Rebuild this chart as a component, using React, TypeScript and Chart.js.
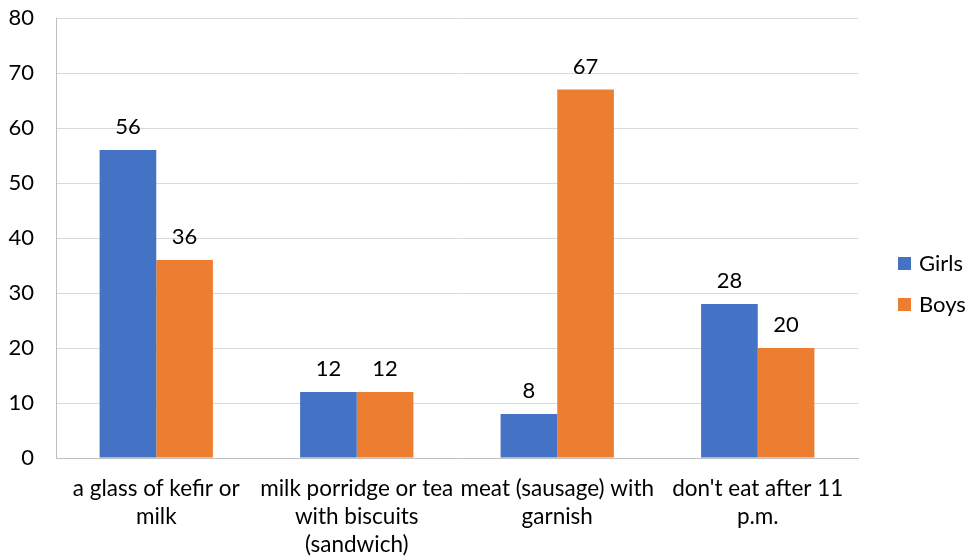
import { useEffect, useRef } from "react";
import { Chart, registerables } from "chart.js";

Chart.register(...registerables);

const categories: string[][] = [
  ["a glass of kefir or", "milk"],
  ["milk porridge or tea", "with biscuits", "(sandwich)"],
  ["meat (sausage) with", "garnish"],
  ["don't eat after 11", "p.m."],
];
const girls = [56, 12, 8, 28];
const boys = [36, 12, 67, 20];
const seriesNames = ["Girls", "Boys"];
const seriesColors = ["#4472C4", "#ED7D31"];
const yMin = 0;
const yMax = 80;
const yStep = 10;

const FONT = "Lato, 'Open Sans', sans-serif";
const TEXT = "#000000";

// Value labels above each bar
const valueLabels = {
  id: "valueLabels",
  afterDatasetsDraw(chart: Chart) {
    const ctx = chart.ctx;
    ctx.save();
    ctx.font = `22px ${FONT}`;
    ctx.fillStyle = TEXT;
    ctx.textAlign = "center";
    ctx.textBaseline = "middle";
    chart.data.datasets.forEach((ds, di) => {
      const meta = chart.getDatasetMeta(di);
      meta.data.forEach((el: any, i) => {
        const v = ds.data[i] as number;
        ctx.fillText(String(v), el.x, el.y - 23);
      });
    });
    ctx.restore();
  },
};

// Legend drawn to the right of the plot area
const sideLegend = {
  id: "sideLegend",
  afterDraw(chart: Chart) {
    const ctx = chart.ctx;
    const area = chart.chartArea;
    const x = area.right + 40;
    const centerY = chart.height / 2 + 4;
    const gap = 41;
    ctx.save();
    ctx.font = `22px ${FONT}`;
    ctx.textBaseline = "middle";
    ctx.textAlign = "left";
    seriesNames.forEach((name, i) => {
      const cy = centerY + (i - (seriesNames.length - 1) / 2) * gap;
      ctx.fillStyle = seriesColors[i];
      ctx.fillRect(x, cy - 6.5, 13, 13);
      ctx.fillStyle = TEXT;
      ctx.fillText(name, x + 21, cy);
    });
    ctx.restore();
  },
};

export default function App() {
  const canvasRef = useRef<HTMLCanvasElement | null>(null);

  useEffect(() => {
    if (!canvasRef.current) return;
    const chart = new Chart(canvasRef.current, {
      type: "bar",
      data: {
        labels: categories,
        datasets: [
          { label: seriesNames[0], data: girls, backgroundColor: seriesColors[0] },
          { label: seriesNames[1], data: boys, backgroundColor: seriesColors[1] },
        ],
      },
      options: {
        animation: false,
        responsive: true,
        maintainAspectRatio: false,
        layout: { padding: { top: 18, right: 113, bottom: 0, left: 0 } },
        datasets: {
          bar: { categoryPercentage: 0.565, barPercentage: 1 },
        },
        plugins: {
          legend: { display: false },
          tooltip: { enabled: false },
        },
        scales: {
          x: {
            grid: { display: false, drawTicks: false },
            border: { display: true, color: "#BFBFBF", width: 1 },
            ticks: {
              color: TEXT,
              font: { family: FONT, size: 22.5, lineHeight: "28px" as any },
              padding: 17,
              autoSkip: false,
              maxRotation: 0,
              minRotation: 0,
            },
            afterFit(scale: any) {
              scale.height = 102;
              scale.paddingLeft = 0;
              scale.paddingRight = 0;
            },
          },
          y: {
            min: yMin,
            max: yMax,
            grid: { color: "#D9D9D9", lineWidth: 1, drawTicks: false },
            border: { display: true, color: "#BFBFBF", width: 1 },
            ticks: {
              stepSize: yStep,
              color: TEXT,
              font: { family: FONT, size: 22 },
              padding: 22,
            },
            afterFit(scale: any) {
              scale.width = 56;
              scale.paddingTop = 0;
              scale.paddingBottom = 0;
            },
          },
        },
      },
      plugins: [valueLabels, sideLegend],
    });
    return () => chart.destroy();
  }, []);

  return (
    <div style={{ position: "fixed", left: 0, top: 0, width: 971, height: 560, background: "#ffffff" }}>
      <canvas ref={canvasRef} />
    </div>
  );
}
